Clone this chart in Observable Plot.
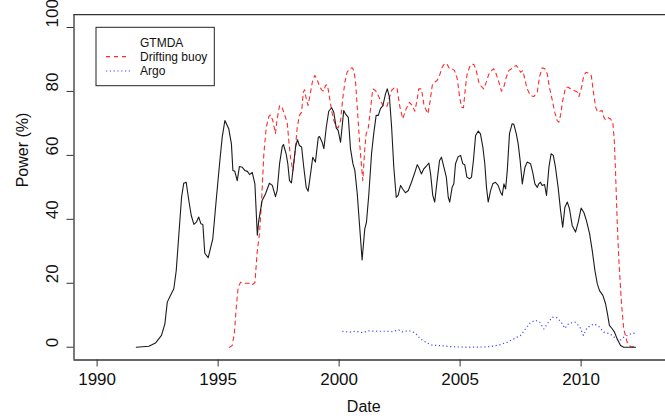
<!DOCTYPE html>
<html><head><meta charset="utf-8">
<script src="https://cdn.jsdelivr.net/npm/d3@7"></script>
<script src="https://cdn.jsdelivr.net/npm/@observablehq/plot@0.6"></script>
<style>body{margin:0;background:#fff} svg{display:block}</style>
</head><body><div id="chart"></div><script>
const seriesNames = ["GTMDA", "Drifting buoy", "Argo"];
const xTicks = [1990, 1995, 2000, 2005, 2010];
const yTicks = [0, 20, 40, 60, 80, 100];

const gtYear = [1991.62,1992.14,1992.41,1992.66,1992.80,1992.90,1993.03,1993.17,1993.27,1993.38,1993.49,1993.58,1993.68,1993.79,1993.89,1994.00,1994.10,1994.20,1994.29,1994.37,1994.45,1994.59,1994.78,1994.92,1995.06,1995.17,1995.28,1995.44,1995.55,1995.61,1995.69,1995.79,1995.88,1996.00,1996.10,1996.21,1996.30,1996.41,1996.52,1996.62,1996.68,1996.82,1996.96,1997.12,1997.24,1997.37,1997.44,1997.54,1997.65,1997.70,1997.81,1997.88,1997.95,1998.03,1998.10,1998.20,1998.28,1998.36,1998.45,1998.54,1998.64,1998.72,1998.82,1998.91,1999.02,1999.14,1999.19,1999.30,1999.37,1999.47,1999.57,1999.69,1999.78,1999.88,1999.96,2000.06,2000.19,2000.26,2000.38,2000.47,2000.57,2000.65,2000.75,2000.84,2000.95,2001.06,2001.13,2001.23,2001.34,2001.43,2001.53,2001.62,2001.71,2001.81,2001.92,2001.99,2002.08,2002.17,2002.26,2002.36,2002.44,2002.54,2002.63,2002.74,2002.86,2002.99,2003.13,2003.23,2003.29,2003.40,2003.50,2003.60,2003.71,2003.78,2003.87,2003.95,2004.05,2004.15,2004.23,2004.33,2004.43,2004.51,2004.57,2004.67,2004.74,2004.81,2004.92,2005.02,2005.11,2005.19,2005.28,2005.39,2005.47,2005.55,2005.64,2005.75,2005.84,2005.94,2006.02,2006.09,2006.16,2006.26,2006.35,2006.46,2006.57,2006.67,2006.74,2006.81,2006.88,2006.95,2007.04,2007.15,2007.22,2007.32,2007.40,2007.48,2007.57,2007.68,2007.77,2007.91,2008.00,2008.09,2008.19,2008.25,2008.32,2008.39,2008.49,2008.57,2008.67,2008.76,2008.85,2008.94,2009.05,2009.15,2009.24,2009.33,2009.43,2009.52,2009.63,2009.77,2009.88,2010.00,2010.11,2010.22,2010.35,2010.46,2010.57,2010.67,2010.76,2010.90,2011.01,2011.09,2011.17,2011.29,2011.38,2011.49,2011.63,2011.76,2012.04,2012.25];
const gtValue = [0,0.3,1.3,3.7,7.3,14.1,16.2,18.3,24,35.5,46.9,51.3,51.6,45.9,41.2,38.4,39.1,40.7,38.6,38.4,29.4,28,33.9,45.9,57.4,65.7,70.9,68.3,63.6,55.3,55,52.1,56.5,56.3,55.3,55,54,54.7,51.1,35,39.6,45.9,48,51.3,50.6,47.1,49,57.4,62.8,63.4,60.5,57.4,52.1,51.4,55.8,62.6,64.9,63.1,62.6,56.3,50,48.8,54.2,59.4,57.9,65.7,65.9,64.1,62.1,68.8,73.8,74.9,73.5,68.6,67.8,64.1,74,73,71.9,62.1,57.4,55.3,48,38.6,27.3,37,39.1,48,60.5,66.8,72.5,72.5,74.6,75.6,79.3,80.8,78.2,68.8,56.3,46.9,47.5,50.6,49.5,48.3,49,51.6,54.7,57.1,56.3,54.2,55.8,56.6,57.6,54.2,47.5,45.4,52.1,58.4,59.4,56.3,53.2,46.9,45.4,50,51.1,57.4,59.6,60,57.4,57.1,53.2,52.7,53.2,58.4,66.2,67.6,66.7,62.6,57.4,50,45.4,49,51.1,51.6,50.6,48.5,47.5,51.1,49.5,55.3,66.8,69.9,69.7,66.8,63.6,58.4,51.1,56.3,57.9,57.4,54.7,51.1,50,51.1,51.6,50.6,50.9,47.5,56.3,60.5,60,56.3,50,42.8,37.5,43.8,45.4,43.3,38.1,36,39.1,43.5,42.2,39.6,35.5,30.2,24,19.8,17.7,16.2,13.6,10.4,6.8,5.7,4.7,2.6,0.5,0,0,0];

const dbYear = [1995.47,1995.58,1995.67,1995.75,1995.83,1995.93,1996.06,1996.27,1996.41,1996.52,1996.62,1996.71,1996.79,1996.89,1996.99,1997.10,1997.17,1997.26,1997.37,1997.44,1997.54,1997.65,1997.76,1997.86,1997.92,1997.99,1998.09,1998.17,1998.27,1998.36,1998.45,1998.52,1998.58,1998.64,1998.72,1998.82,1998.91,1999.00,1999.10,1999.19,1999.30,1999.37,1999.44,1999.51,1999.57,1999.69,1999.78,1999.88,1999.96,2000.06,2000.15,2000.24,2000.33,2000.43,2000.54,2000.61,2000.68,2000.75,2000.84,2000.93,2000.98,2001.06,2001.12,2001.20,2001.30,2001.39,2001.50,2001.62,2001.71,2001.81,2001.92,2001.99,2002.05,2002.17,2002.30,2002.40,2002.50,2002.63,2002.77,2002.91,2003.02,2003.13,2003.23,2003.29,2003.40,2003.50,2003.57,2003.67,2003.75,2003.85,2003.95,2004.05,2004.15,2004.26,2004.37,2004.47,2004.56,2004.67,2004.77,2004.88,2004.98,2005.06,2005.14,2005.22,2005.29,2005.39,2005.47,2005.57,2005.67,2005.77,2005.88,2005.98,2006.08,2006.19,2006.30,2006.39,2006.49,2006.60,2006.71,2006.81,2006.91,2007.01,2007.12,2007.22,2007.32,2007.40,2007.50,2007.59,2007.67,2007.77,2007.91,2008.05,2008.19,2008.28,2008.39,2008.50,2008.60,2008.69,2008.81,2008.91,2009.01,2009.08,2009.15,2009.24,2009.36,2009.47,2009.56,2009.70,2009.84,2009.91,2010.02,2010.11,2010.21,2010.32,2010.42,2010.50,2010.60,2010.68,2010.76,2010.87,2010.94,2011.01,2011.12,2011.21,2011.31,2011.37,2011.42,2011.49,2011.56,2011.67,2011.76,2011.90,2012.04,2012.32];
const dbValue = [0,0.5,4.2,12.5,18.8,20.3,20,20,19.5,20.2,30.2,35.5,44.8,60.5,68.8,72.2,72.7,70.9,66.8,71.4,75.6,74.9,72.5,69.9,64.7,59.4,55.1,60.5,68.8,72.5,73.5,79.8,80.5,77.7,75.6,79.8,83.6,85,83.6,81.5,80.3,80.1,81.9,82.1,79.8,74,70.9,69,68.6,70.9,77.7,82.9,86,87.1,87.4,86.5,82.9,75.1,64.7,56.3,52.1,62.1,66.8,68.3,74.6,80.8,80.3,78.7,77.2,75.6,75.1,75.5,77.5,80.3,81.3,80.8,75.6,71.4,74.6,76.6,75.6,73.8,77.7,80.8,80.8,76.1,74.6,73,76.6,81.9,82.9,83.4,85,87.6,88.8,88.4,87.1,87.1,86.5,84,78.2,75.1,74.9,81.3,85.5,87.6,88.6,88.4,86.5,82.9,81.5,80.8,82.9,85.5,86.5,87.1,85.5,82.9,80.1,81.5,84.5,86.5,87.1,87.8,88.1,87.4,86,86.5,84,80.8,78.7,78.4,79.8,84.5,87.4,87.1,85.5,81.3,77.2,73.5,70.9,70.4,72.5,77.2,81.3,81.3,80.8,80.3,79.8,78.4,81.3,85,86,85.7,85,80.3,75.1,73.5,73.8,74,71.9,71.1,71.8,71.4,70.4,64.7,55.3,39.6,27.1,13.6,5.7,1.6,0.2,0];

const argoYear = [2000.13,2000.40,2000.68,2000.95,2001.23,2001.57,2001.92,2002.19,2002.47,2002.61,2002.88,2003.16,2003.36,2003.57,2003.85,2004.19,2004.60,2005.15,2005.71,2006.26,2006.67,2006.95,2007.22,2007.50,2007.70,2007.91,2008.12,2008.29,2008.46,2008.60,2008.81,2009.01,2009.18,2009.33,2009.49,2009.77,2009.95,2010.09,2010.25,2010.53,2010.73,2010.94,2011.19,2011.38,2011.60,2011.76,2011.97,2012.25];
const argoValue = [5.0,4.7,5.0,4.6,5.1,5.0,5.0,4.9,5.4,4.8,5.2,4.4,2.6,1.6,0.6,0.5,0.2,0,0,0.2,0.8,1.6,2.6,3.7,5.7,7.8,8.4,7.8,5.7,7.3,9.4,9.2,7.8,5.9,7.5,7.8,6.3,3.7,6.1,7.3,6.5,4.7,4.2,3.1,2.1,3.1,4.0,4.5];

const gt = gtYear.map((d, i) => ({year: d, value: gtValue[i]}));
const db = dbYear.map((d, i) => ({year: d, value: dbValue[i]}));
const argo = argoYear.map((d, i) => ({year: d, value: argoValue[i]}));

const font = "'Liberation Sans', Arial, Helvetica, sans-serif";
const xDomain = [1989.045, 2013.487];

const plot = Plot.plot({
  width: 665, height: 418,
  marginLeft: 73.5, marginRight: 0, marginTop: 14.2, marginBottom: 58.5,
  x: {domain: xDomain, axis: null},
  y: {domain: [-4, 104], axis: null},
  style: {fontFamily: font, background: "#fff", overflow: "visible"},
  marks: [
    Plot.line(argo, {x: "year", y: "value", stroke: "#4646ff", strokeWidth: 1.2, strokeDasharray: "1.2,2.6", strokeLinecap: "butt"}),
    Plot.line(db, {x: "year", y: "value", stroke: "#ff2b2b", strokeWidth: 1.1, strokeDasharray: "4,4"}),
    Plot.line(gt, {x: "year", y: "value", stroke: "#1b1b1b", strokeWidth: 1.1}),
    Plot.ruleY([-4, 104], {stroke: "#333", strokeWidth: 1.3}),
    Plot.ruleX([xDomain[0]], {stroke: "#333", strokeWidth: 1.3}),
    Plot.axisX(xTicks, {tickSize: 7, tickPadding: 6, fontSize: 17, stroke: "#333", fill: "#111", label: null, tickFormat: d => String(d)}),
    Plot.axisY(yTicks, {tickSize: 7, stroke: "#333", label: null, tickFormat: () => ""}),
    Plot.text(yTicks, {y: d => d, frameAnchor: "left", dx: -21.5, rotate: -90, text: d => String(d), fontSize: 17, fill: "#111"}),
    Plot.text(["Date"], {frameAnchor: "bottom", dy: 52, dx: -6, text: d => d, fontSize: 16, fill: "#111"}),
    Plot.text(["Power (%)"], {frameAnchor: "left", dx: -51.5, rotate: -90, text: d => d, fontSize: 16, fill: "#111"})
  ]
});

// Legend (R-style boxed legend, top-left)
const svg = d3.select(plot);
const lg = svg.append("g").attr("font-family", font).attr("font-size", 12).attr("text-anchor", "start");
lg.append("rect").attr("x", 96).attr("y", 27.3).attr("width", 118.3).attr("height", 58.4)
  .attr("fill", "#fff").attr("stroke", "#222").attr("stroke-width", 1);
const legendStyles = [
  {stroke: "none", dash: null},
  {stroke: "#ff2b2b", dash: "4,4"},
  {stroke: "#4646ff", dash: "1.2,2.6"}
];
seriesNames.forEach((name, i) => {
  const cy = 42.3 + i * 14.35;
  if (legendStyles[i].stroke !== "none") {
    lg.append("line").attr("x1", 106).attr("x2", 130).attr("y1", cy).attr("y2", cy)
      .attr("stroke", legendStyles[i].stroke).attr("stroke-width", 1.1)
      .attr("stroke-dasharray", legendStyles[i].dash);
  }
  lg.append("text").attr("x", 140).attr("y", cy).attr("dy", "0.36em")
    .attr("text-anchor", "start").attr("fill", "#111").text(name);
});

document.getElementById("chart").appendChild(plot);
</script></body></html>
